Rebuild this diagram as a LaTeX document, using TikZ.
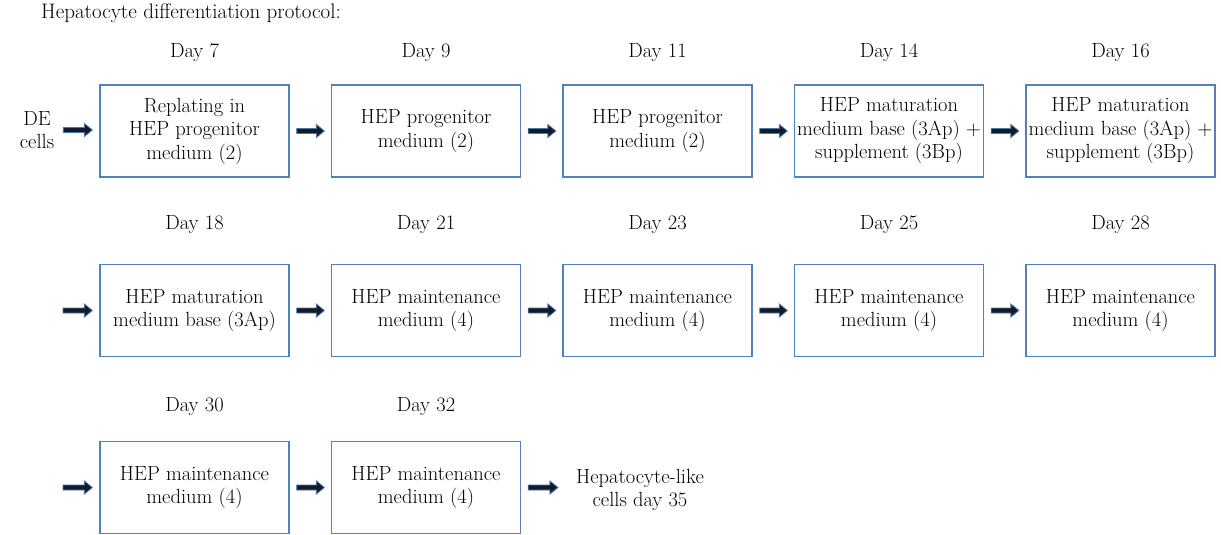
\documentclass[tikz,border=0pt]{standalone}
\usepackage{fontspec}
\usetikzlibrary{calc}
\definecolor{boxblue}{HTML}{5581B8}
\definecolor{arrowdark}{HTML}{151A26}
\definecolor{arrowedge}{HTML}{4A78B0}
\tikzset{
  stepbox/.style={draw=boxblue, line width=1.3pt, minimum width=189pt, minimum height=92pt, align=center, inner sep=0pt},
  plaintext/.style={align=center, inner sep=0pt},
  blockarrow/.style={fill=arrowdark, draw=arrowedge, line width=0.8pt, line join=miter},
}
\newcommand{\barrow}[4]{%
  \draw[blockarrow] let \p1=($(#1)+(#3pt,0pt)$), \p2=($(#2)+(-#4pt,0pt)$) in
    (\x1,\y1+2.5pt) -- (\x2-8pt,\y1+2.5pt) -- (\x2-8pt,\y1+6.5pt) -- (\x2,\y1)
    -- (\x2-8pt,\y1-6.5pt) -- (\x2-8pt,\y1-2.5pt) -- (\x1,\y1-2.5pt) -- cycle;}
\begin{document}
\begin{tikzpicture}[x=1pt,y=-1pt, every node/.style={font=\fontsize{20.5}{23.5}\selectfont}]
\useasboundingbox (0,0) rectangle (1221,535);

\node[plaintext, anchor=west, font=\fontsize{21}{24}\selectfont] (title) at (41,13) {Hepatocyte differentiation protocol:};

\node[plaintext] (de) at (37,130) {DE\\cells};
\foreach \i/\d in {1/7,2/9,3/11,4/14,5/16}{
  \node[plaintext] (d\i) at ({194.5+231.5*(\i-1)},53) {Day \d};
}
\foreach \i/\d in {6/18,7/21,8/23,9/25,10/28}{
  \node[plaintext] (d\i) at ({194.5+231.5*(\i-6)},225) {Day \d};
}
\foreach \i/\d in {11/30,12/32}{
  \node[plaintext] (d\i) at ({194.5+231.5*(\i-11)},407) {Day \d};
}

\node[stepbox] (b1) at (194.5,131) {Replating in\\HEP progenitor\\medium (2)};
\node[stepbox] (b2) at (426,131) {HEP progenitor\\medium (2)};
\node[stepbox] (b3) at (657.5,131) {HEP progenitor\\medium (2)};
\node[stepbox] (b4) at (889,131) {HEP maturation\\medium base (3Ap) +\\supplement (3Bp)};
\node[stepbox] (b5) at (1120.5,131) {HEP maturation\\medium base (3Ap) +\\supplement (3Bp)};

\node[stepbox] (b6) at (194.5,310.5) {HEP maturation\\medium base (3Ap)};
\node[stepbox] (b7) at (426,310.5) {HEP maintenance\\medium (4)};
\node[stepbox] (b8) at (657.5,310.5) {HEP maintenance\\medium (4)};
\node[stepbox] (b9) at (889,310.5) {HEP maintenance\\medium (4)};
\node[stepbox] (b10) at (1120.5,310.5) {HEP maintenance\\medium (4)};

\node[stepbox] (b11) at (194.5,487.5) {HEP maintenance\\medium (4)};
\node[stepbox] (b12) at (426,487.5) {HEP maintenance\\medium (4)};
\node[plaintext] (end) at (640,490) {Hepatocyte-like\\cells day 35};

\coordinate (s2) at (63,310.5);
\coordinate (s3) at (63,487.5);

\barrow{de.east}{b1.west}{9}{7}
\barrow{b1.east}{b2.west}{7}{6.5}
\barrow{b2.east}{b3.west}{7}{6.5}
\barrow{b3.east}{b4.west}{7}{6.5}
\barrow{b4.east}{b5.west}{7}{6.5}

\barrow{s2}{b6.west}{0}{7}
\barrow{b6.east}{b7.west}{7}{6.5}
\barrow{b7.east}{b8.west}{7}{6.5}
\barrow{b8.east}{b9.west}{7}{6.5}
\barrow{b9.east}{b10.west}{7}{6.5}

\barrow{s3}{b11.west}{0}{7}
\barrow{b11.east}{b12.west}{7}{6.5}
\barrow{b12.east}{end.west}{7}{18}
\end{tikzpicture}
\end{document}
